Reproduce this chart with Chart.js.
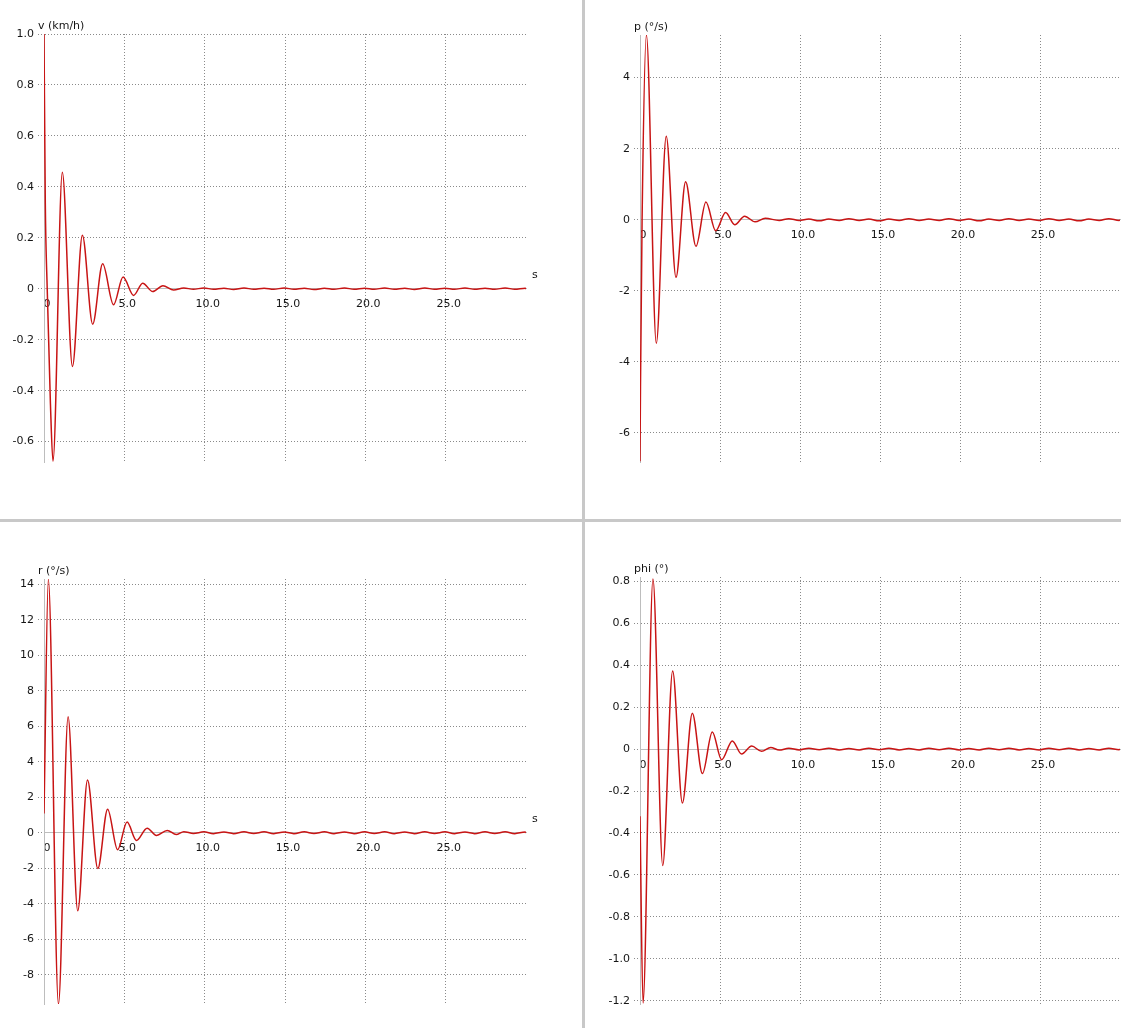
<!DOCTYPE html>
<html><head><meta charset="utf-8">
<script src="https://cdn.jsdelivr.net/npm/chart.js@4.4.1/dist/chart.umd.min.js"></script>
<style>
html,body{margin:0;padding:0;background:#fff;width:1121px;height:1028px;overflow:hidden;position:relative}
canvas{position:absolute}
.divv{position:absolute;left:582px;top:0;width:3px;height:1028px;background:#c8c8c8}
.divh{position:absolute;left:0;top:519px;width:1121px;height:3px;background:#c8c8c8}
</style></head><body>
<canvas id="c1" width="581" height="518" style="left:0;top:0"></canvas>
<canvas id="c2" width="535" height="518" style="left:586px;top:0"></canvas>
<canvas id="c3" width="581" height="505" style="left:0;top:523px"></canvas>
<canvas id="c4" width="535" height="505" style="left:586px;top:523px"></canvas>
<div class="divv"></div><div class="divh"></div>
<script>
// ---- data ----
const xTickValues = [0, 5, 10, 15, 20, 25];
const xTickLabels = ['0', '5.0', '10.0', '15.0', '20.0', '25.0'];

const vTime   = [0, 0.08, 0.2, 0.4, 0.56, 1.14, 1.77, 2.39, 3.03, 3.65, 4.33, 4.92, 5.58, 6.14, 6.77, 7.4, 8.07];
const vValues = [1.0, 0.34, 0.0, -0.45, -0.677, 0.457, -0.305, 0.21, -0.139, 0.098, -0.063, 0.046, -0.026, 0.022, -0.011, 0.012, -0.005];

const pTime   = [0, 0.03, 0.13, 0.4, 1.02, 1.64, 2.25, 2.85, 3.5, 4.12, 4.73, 5.35, 5.92, 6.54, 7.19, 7.83];
const pValues = [-6.8, -4.7, 0.0, 5.2, -3.48, 2.35, -1.62, 1.07, -0.75, 0.50, -0.31, 0.20, -0.14, 0.10, -0.06, 0.04];

const rTime   = [0, 0.27, 0.9, 1.5, 2.1, 2.71, 3.35, 3.96, 4.58, 5.17, 5.75, 6.42, 7.0, 7.67, 8.23];
const rValues = [1.08, 14.28, -9.65, 6.54, -4.4, 2.98, -2.02, 1.33, -0.96, 0.6, -0.43, 0.26, -0.15, 0.13, -0.1];

const phiTime   = [0, 0.19, 0.81, 1.42, 2.04, 2.65, 3.27, 3.9, 4.52, 5.1, 5.77, 6.35, 6.98, 7.6, 8.17];
const phiValues = [-0.32, -1.21, 0.81, -0.555, 0.372, -0.257, 0.171, -0.117, 0.081, -0.051, 0.039, -0.024, 0.014, -0.011, 0.008];

// small residual ripple after the oscillation has died out
const tailTime = [8.7, 9.3, 9.95, 10.55, 11.2, 11.8, 12.45, 13.05, 13.7, 14.3, 14.95, 15.55, 16.2, 16.8, 17.45, 18.05, 18.7, 19.3, 19.95, 20.55, 21.2, 21.8, 22.45, 23.05, 23.7, 24.3, 24.95, 25.55, 26.2, 26.8, 27.45, 28.05, 28.7, 29.3, 29.95, 30.0];
const vTail   = [0.003,-0.002,0.003,-0.002,0.002,-0.003,0.003,-0.002,0.002,-0.002,0.003,-0.002,0.002,-0.003,0.002,-0.002,0.003,-0.002,0.002,-0.002,0.003,-0.002,0.002,-0.003,0.003,-0.002,0.002,-0.002,0.003,-0.002,0.002,-0.002,0.003,-0.002,0.002,0.0];
const pTail   = [-0.02,0.03,-0.02,0.02,-0.03,0.02,-0.02,0.03,-0.02,0.02,-0.03,0.02,-0.02,0.03,-0.02,0.02,-0.02,0.03,-0.02,0.02,-0.03,0.02,-0.02,0.03,-0.02,0.02,-0.02,0.03,-0.02,0.02,-0.03,0.02,-0.02,0.03,-0.02,0.0];
const rTail   = [0.06,-0.04,0.05,-0.05,0.04,-0.05,0.05,-0.04,0.05,-0.05,0.04,-0.05,0.05,-0.04,0.05,-0.05,0.04,-0.05,0.05,-0.04,0.05,-0.05,0.04,-0.05,0.05,-0.04,0.05,-0.05,0.04,-0.05,0.05,-0.04,0.05,-0.05,0.04,0.0];
const phiTail = [-0.005,0.004,-0.004,0.004,-0.003,0.004,-0.004,0.003,-0.004,0.004,-0.003,0.004,-0.004,0.003,-0.004,0.004,-0.003,0.004,-0.004,0.003,-0.004,0.004,-0.003,0.004,-0.004,0.003,-0.004,0.004,-0.003,0.004,-0.004,0.003,-0.004,0.004,-0.003,0.0];

const vTickValues = [-0.6, -0.4, -0.2, 0, 0.2, 0.4, 0.6, 0.8, 1.0];
const vTickLabels = ['-0.6', '-0.4', '-0.2', '0', '0.2', '0.4', '0.6', '0.8', '1.0'];
const pTickValues = [-6, -4, -2, 0, 2, 4];
const pTickLabels = ['-6', '-4', '-2', '0', '2', '4'];
const rTickValues = [-8, -6, -4, -2, 0, 2, 4, 6, 8, 10, 12, 14];
const rTickLabels = ['-8', '-6', '-4', '-2', '0', '2', '4', '6', '8', '10', '12', '14'];
const phiTickValues = [-1.2, -1.0, -0.8, -0.6, -0.4, -0.2, 0, 0.2, 0.4, 0.6, 0.8];
const phiTickLabels = ['-1.2', '-1.0', '-0.8', '-0.6', '-0.4', '-0.2', '0', '0.2', '0.4', '0.6', '0.8'];

// ---- drawing ----
const FONT = '"DejaVu Sans", sans-serif';
const FSIZE = 11;
const TXT = '#151515';
const GRID = '#8a8a8a';
const AXIS = '#bdbdbd';
const LINE = '#c81414';

const titlePlugin = {
  id: 'axisTitle',
  afterDraw(chart, args, opts) {
    const {ctx, chartArea, scales} = chart;
    ctx.save();
    ctx.font = FSIZE + 'px ' + FONT;
    ctx.fillStyle = TXT;
    ctx.textBaseline = 'middle';
    ctx.textAlign = 'left';
    ctx.fillText(opts.text, chartArea.left - 6, chartArea.top - 8);
    if (opts.unit) {
      const y0 = scales.y.getPixelForValue(0);
      ctx.fillText(opts.unit, chartArea.right + 6, y0 - 14);
    }
    ctx.restore();
  }
};

function toPoints(times, values) {
  return times.map((t, i) => ({x: t, y: values[i]}));
}

function makeChart(id, box, area, times, values, yMin, yMax, yTicks, yLabels, title, unit) {
  const l = area.L - box.ox, r = area.R - box.ox, t = area.T - box.oy, b = area.B - box.oy;
  new Chart(document.getElementById(id), {
    type: 'line',
    data: {
      datasets: [{
        data: toPoints(times, values),
        borderColor: LINE,
        borderWidth: 1.5,
        pointRadius: 0,
        fill: false,
        cubicInterpolationMode: 'monotone'
      }]
    },
    plugins: [titlePlugin],
    options: {
      responsive: false,
      animation: false,
      devicePixelRatio: 1,
      events: [],
      layout: {padding: {left: 0, top: t, right: box.W - r, bottom: box.H - b}},
      plugins: {legend: {display: false}, tooltip: {enabled: false}, title: {display: false},
        axisTitle: {text: title, unit: unit}},
      scales: {
        x: {
          type: 'linear', min: 0, max: 30,
          position: {y: 0},
          afterBuildTicks: s => { s.ticks = xTickValues.map(v => ({value: v})); },
          afterFit: s => { s.height = 0; },
          grid: {color: GRID, lineWidth: 1, drawTicks: false},
          border: {display: true, color: AXIS, width: 1, dash: [1, 2]},
          ticks: {padding: 9, labelOffset: 3, color: TXT, font: {family: FONT, size: FSIZE},
            maxRotation: 0, autoSkip: false, callback: (v, i) => xTickLabels[i]}
        },
        y: {
          type: 'linear', min: yMin, max: yMax, position: 'left',
          afterBuildTicks: s => { s.ticks = yTicks.map(v => ({value: v})); },
          afterFit: s => { s.width = l; },
          grid: {color: GRID, lineWidth: 1, drawTicks: true, tickLength: 6, tickColor: GRID, tickBorderDash: [1, 2]},
          border: {display: true, color: AXIS, width: 1, dash: [1, 2]},
          ticks: {padding: 4, color: TXT, font: {family: FONT, size: FSIZE}, autoSkip: false,
            callback: (v, i) => yLabels[i]}
        }
      }
    }
  });
}

makeChart('c1', {ox: 0, oy: 0, W: 581, H: 518}, {L: 44, R: 526, T: 34, B: 462},
  vTime.concat(tailTime), vValues.concat(vTail), -0.68, 1.0, vTickValues, vTickLabels, 'v (km/h)', 's');
makeChart('c2', {ox: 586, oy: 0, W: 535, H: 518}, {L: 640, R: 1120, T: 35, B: 462},
  pTime.concat(tailTime), pValues.concat(pTail), -6.82, 5.2, pTickValues, pTickLabels, 'p (°/s)', null);
makeChart('c3', {ox: 0, oy: 523, W: 581, H: 505}, {L: 44, R: 526, T: 579, B: 1004},
  rTime.concat(tailTime), rValues.concat(rTail), -9.65, 14.3, rTickValues, rTickLabels, 'r (°/s)', 's');
makeChart('c4', {ox: 586, oy: 523, W: 535, H: 505}, {L: 640, R: 1120, T: 577, B: 1004},
  phiTime.concat(tailTime), phiValues.concat(phiTail), -1.215, 0.82, phiTickValues, phiTickLabels, 'phi (°)', null);
</script>
</body></html>
